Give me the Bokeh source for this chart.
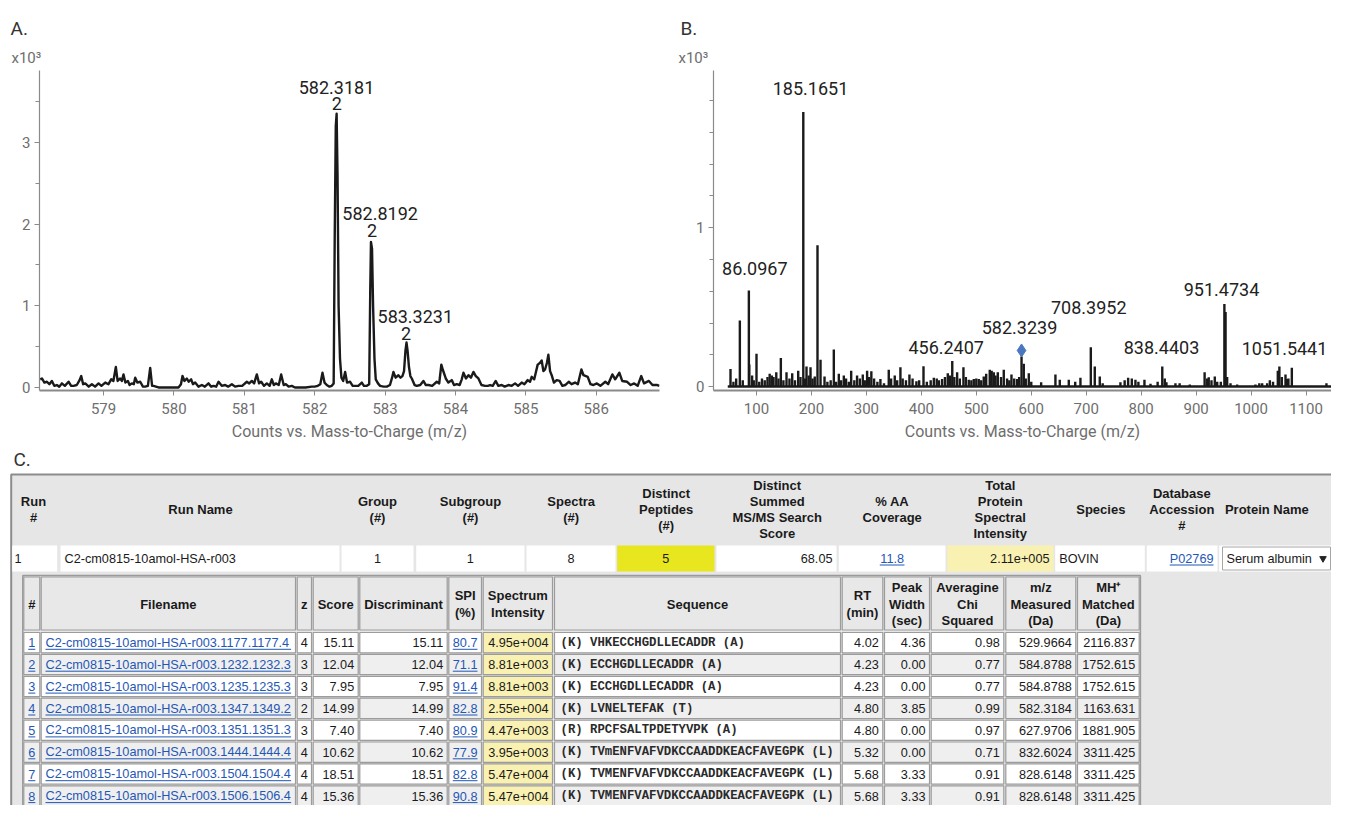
from bokeh.plotting import figure
from bokeh.models import Range1d, FixedTicker
from bokeh.layouts import column, row
from bokeh.embed import file_html
from bokeh.resources import INLINE
from bokeh.core.properties import value

PLOTFONT = "Roboto"
TABFONT = "Liberation Sans"
MONO = "Liberation Mono"

# ---------------- Panel A: zoomed MS profile (x10^3 counts) ----------------
a_mz = [578.10, 578.124, 578.16, 578.195, 578.23, 578.266, 578.30, 578.337, 578.37, 578.408,
        578.45, 578.503, 578.54, 578.574, 578.62, 578.66, 578.683, 578.71, 578.740, 578.79,
        578.834, 578.88, 578.929, 578.97, 579.024, 579.07, 579.109, 579.14, 579.175, 579.20,
        579.237, 579.26, 579.284, 579.31, 579.346, 579.37, 579.402, 579.43, 579.450, 579.48,
        579.521, 579.56, 579.592, 579.63, 579.663, 579.69, 579.710, 579.781, 579.90, 580.065,
        580.10, 580.122, 580.15, 580.184, 580.21, 580.245, 580.27, 580.302, 580.35, 580.397,
        580.44, 580.491, 580.53, 580.563, 580.60, 580.634, 580.68, 580.728, 580.77, 580.823,
        580.87, 580.918, 580.97, 581.036, 581.07, 581.107, 581.14, 581.178, 581.21, 581.240,
        581.28, 581.320, 581.36, 581.391, 581.42, 581.448, 581.49, 581.524, 581.56, 581.590,
        581.63, 581.675, 581.72, 581.770, 581.87, 581.959, 582.00, 582.044, 582.08, 582.111,
        582.14, 582.172, 582.21, 582.243, 582.27, 582.285, 582.30, 582.312, 582.325, 582.34,
        582.36, 582.38, 582.405, 582.433, 582.46, 582.504, 582.54, 582.575, 582.62, 582.670,
        582.70, 582.741, 582.775, 582.79, 582.80, 582.815, 582.83, 582.85, 582.868, 582.90,
        582.930, 582.98, 583.025, 583.07, 583.10, 583.119, 583.15, 583.190, 583.22, 583.247,
        583.27, 583.29, 583.305, 583.32, 583.34, 583.36, 583.380, 583.42, 583.451, 583.50,
        583.545, 583.58, 583.617, 583.67, 583.735, 583.77, 583.80, 583.82, 583.863, 583.90,
        583.948, 583.98, 584.019, 584.06, 584.09, 584.114, 584.15, 584.185, 584.22, 584.256,
        584.29, 584.327, 584.37, 584.422, 584.46, 584.493, 584.53, 584.573, 584.61, 584.658,
        584.70, 584.753, 584.80, 584.848, 584.89, 584.942, 584.98, 585.027, 585.06, 585.084,
        585.12, 585.169, 585.20, 585.226, 585.25, 585.274, 585.30, 585.321, 585.345, 585.368,
        585.40, 585.439, 585.48, 585.52, 585.56, 585.61, 585.65, 585.70, 585.74, 585.79,
        585.82, 585.88, 585.92, 585.96, 586.01, 586.06, 586.13, 586.17, 586.23, 586.27,
        586.33, 586.37, 586.44, 586.49, 586.54, 586.59, 586.64, 586.68, 586.75, 586.80,
        586.87, 586.90]
a_int = [0.10, 0.11, 0.06, 0.07, 0.04, 0.08, 0.02, 0.03, 0.01, 0.05,
         0.02, 0.07, 0.02, 0.02, 0.03, 0.09, 0.14, 0.04, 0.05, 0.01,
         0.04, 0.01, 0.05, 0.02, 0.06, 0.04, 0.10, 0.08, 0.25, 0.08,
         0.11, 0.08, 0.16, 0.06, 0.08, 0.03, 0.05, 0.04, 0.12, 0.06,
         0.07, 0.01, 0.01, 0.02, 0.24, 0.02, 0.02, 0.00, 0.00, 0.00,
         0.04, 0.14, 0.08, 0.11, 0.07, 0.10, 0.04, 0.06, 0.01, 0.03,
         0.01, 0.05, 0.01, 0.02, 0.01, 0.07, 0.02, 0.03, 0.01, 0.04,
         0.01, 0.02, 0.02, 0.07, 0.05, 0.08, 0.05, 0.16, 0.05, 0.07,
         0.02, 0.05, 0.02, 0.10, 0.03, 0.05, 0.03, 0.16, 0.03, 0.04,
         0.01, 0.02, 0.00, 0.00, 0.00, 0.01, 0.01, 0.02, 0.04, 0.18,
         0.06, 0.03, 0.01, 0.02, 0.05, 1.84, 3.20, 3.35, 2.60, 1.00,
         0.35, 0.12, 0.08, 0.19, 0.06, 0.07, 0.02, 0.02, 0.02, 0.06,
         0.02, 0.02, 0.04, 1.20, 1.78, 1.70, 1.00, 0.35, 0.10, 0.05,
         0.02, 0.01, 0.01, 0.03, 0.12, 0.19, 0.12, 0.15, 0.12, 0.14,
         0.20, 0.45, 0.55, 0.45, 0.25, 0.14, 0.11, 0.03, 0.02, 0.03,
         0.08, 0.03, 0.03, 0.02, 0.07, 0.05, 0.28, 0.22, 0.11, 0.06,
         0.09, 0.03, 0.04, 0.03, 0.10, 0.18, 0.11, 0.15, 0.12, 0.19,
         0.14, 0.11, 0.03, 0.02, 0.02, 0.03, 0.02, 0.08, 0.02, 0.03,
         0.01, 0.03, 0.02, 0.05, 0.02, 0.06, 0.04, 0.09, 0.07, 0.13,
         0.10, 0.28, 0.30, 0.33, 0.20, 0.22, 0.30, 0.40, 0.20, 0.15,
         0.06, 0.09, 0.08, 0.02, 0.03, 0.07, 0.04, 0.06, 0.04, 0.22,
         0.15, 0.13, 0.04, 0.03, 0.05, 0.02, 0.07, 0.04, 0.16, 0.10,
         0.18, 0.08, 0.07, 0.03, 0.05, 0.02, 0.14, 0.05, 0.08, 0.03,
         0.03, 0.02]
a_peak_labels = ["582.3181", "582.8192", "583.3231"]
a_label_mz = [582.31, 582.93, 583.43]
a_label_int = [3.676, 2.13, 0.873]
a_charges = ["2", "2", "2"]
a_charge_mz = [582.315, 582.815, 583.30]
a_charge_int = [3.48, 1.925, 0.665]
a_xticks = [579, 580, 581, 582, 583, 584, 585, 586]
a_yticks = [0, 1, 2, 3]
a_yminor = [0.5, 1.5, 2.5, 3.5]

# ---------------- Panel B: MS/MS centroid spectrum (x10^3 counts) ----------------
b_mz = [52.7, 58, 63, 69.7, 75, 86.0967, 86.9, 92, 95, 100, 105, 110, 115, 120, 124, 128, 131, 136,
        140, 144.3, 149, 154.6, 160, 165, 170, 175.9, 180, 185.1651, 188, 191, 195, 198.3, 202, 206,
        211, 216.5, 223.8, 229, 235, 240.7, 245, 249.8, 254, 258.9, 263, 268, 272.3, 278, 283,
        288, 293.4, 297, 301.3, 305, 309, 314, 320, 325.5, 332, 340.7, 345, 351.6, 356, 361.9,
        366, 372, 378.3, 384, 391, 396, 403.9, 410, 417, 422.7, 428, 432, 437.8, 443, 448.1,
        452, 456.2407, 460, 465.1, 470, 476.6, 481, 486.3, 491, 495.4, 500, 504.5, 509, 513.6,
        518, 524.5, 528, 531.8, 535, 539.1, 545, 550, 556, 560, 564, 569, 574.3, 578, 582.3239,
        586.4, 590, 595.5, 600, 618, 644, 651.9, 668.3, 680, 689.5, 708.3952, 715.6, 724.7, 730,
        762.3, 770, 776.3, 783, 789.6, 795, 806, 817, 830, 838.4403, 843, 846, 862.4, 870, 888.5,
        915.5, 920, 923, 928, 934, 938.4, 945, 951.4734, 953.6, 956.5, 962.6, 974.7, 1008, 1015,
        1020.2, 1029.3, 1034.2, 1040, 1048.7, 1051.5441, 1056, 1062.7, 1065.7, 1068, 1074.2, 1137.2]
b_int = [0.11, 0.03, 0.05, 0.416, 0.04, 0.605, 0.139, 0.07, 0.04, 0.206, 0.03, 0.05, 0.04, 0.06, 0.08, 0.07, 0.06, 0.09,
         0.05, 0.18, 0.04, 0.09, 0.05, 0.084, 0.04, 0.10, 0.06, 1.729, 0.05, 0.126, 0.07, 0.122, 0.05, 0.063,
         0.889, 0.168, 0.063, 0.03, 0.04, 0.233, 0.03, 0.08, 0.04, 0.07, 0.05, 0.03, 0.10, 0.04, 0.07,
         0.05, 0.076, 0.04, 0.10, 0.06, 0.097, 0.05, 0.03, 0.048, 0.02, 0.105, 0.05, 0.07, 0.04, 0.122,
         0.05, 0.04, 0.076, 0.05, 0.034, 0.04, 0.128, 0.03, 0.04, 0.055, 0.05, 0.04, 0.048, 0.06, 0.084,
         0.07, 0.16, 0.06, 0.09, 0.05, 0.122, 0.06, 0.042, 0.04, 0.048, 0.05, 0.048, 0.04, 0.063,
         0.08, 0.105, 0.10, 0.09, 0.07, 0.09, 0.06, 0.105, 0.05, 0.04, 0.076, 0.05, 0.048, 0.06, 0.189,
         0.143, 0.05, 0.084, 0.03, 0.027, 0.076, 0.042, 0.042, 0.03, 0.055, 0.248, 0.126, 0.063, 0.02,
         0.027, 0.04, 0.055, 0.05, 0.042, 0.03, 0.042, 0.017, 0.03, 0.126, 0.05, 0.027, 0.021, 0.02, 0.013,
         0.09, 0.05, 0.058, 0.04, 0.063, 0.03, 0.03, 0.52, 0.47, 0.06, 0.02, 0.013, 0.013, 0.02,
         0.02, 0.02, 0.04, 0.03, 0.10, 0.126, 0.06, 0.076, 0.048, 0.05, 0.118, 0.02]
b_labels = ["86.0967", "185.1651", "456.2407", "582.3239", "708.3952", "838.4403", "951.4734", "1051.5441"]
b_label_mz = [96.9, 198.3, 445.2, 578.6, 704.7, 837.0, 946.2, 1060.9]
b_label_int = [0.742, 1.876, 0.244, 0.374, 0.500, 0.244, 0.609, 0.241]
b_precursor_mz = [582.3239]
b_precursor_int = [0.227]
b_xticks = [100, 200, 300, 400, 500, 600, 700, 800, 900, 1000, 1100]
b_yticks = [0, 1]
b_yminor = [0.2, 0.4, 0.6, 0.8, 1.2, 1.4, 1.6, 1.8]

panel_letters = ["A.", "B.", "C."]
scale_note = "x10\u00b3"

# ---------------- Panel C: table ----------------
run_headers = ["Run\n#", "Run Name", "Group\n(#)", "Subgroup\n(#)", "Spectra\n(#)",
               "Distinct\nPeptides\n(#)", "Distinct\nSummed\nMS/MS Search\nScore", "% AA\nCoverage",
               "Total\nProtein\nSpectral\nIntensity", "Species", "Database\nAccession\n#", "Protein Name"]
run_values = ["1", "C2-cm0815-10amol-HSA-r003", "1", "1", "8", "5", "68.05", "11.8",
              "2.11e+005", "BOVIN", "P02769", "Serum albumin"]

pep_headers = ["#", "Filename", "z", "Score", "Discriminant", "SPI\n(%)", "Spectrum\nIntensity",
               "Sequence", "RT\n(min)", "Peak\nWidth\n(sec)", "Averagine\nChi\nSquared",
               "m/z\nMeasured\n(Da)", "MH\u207a\nMatched\n(Da)"]
pep_num = ["1", "2", "3", "4", "5", "6", "7", "8"]
pep_file = ["C2-cm0815-10amol-HSA-r003.1177.1177.4", "C2-cm0815-10amol-HSA-r003.1232.1232.3",
            "C2-cm0815-10amol-HSA-r003.1235.1235.3", "C2-cm0815-10amol-HSA-r003.1347.1349.2",
            "C2-cm0815-10amol-HSA-r003.1351.1351.3", "C2-cm0815-10amol-HSA-r003.1444.1444.4",
            "C2-cm0815-10amol-HSA-r003.1504.1504.4", "C2-cm0815-10amol-HSA-r003.1506.1506.4"]
pep_z = ["4", "3", "3", "2", "3", "4", "4", "4"]
pep_score = ["15.11", "12.04", "7.95", "14.99", "7.40", "10.62", "18.51", "15.36"]
pep_disc = ["15.11", "12.04", "7.95", "14.99", "7.40", "10.62", "18.51", "15.36"]
pep_spi = ["80.7", "71.1", "91.4", "82.8", "80.9", "77.9", "82.8", "90.8"]
pep_intensity = ["4.95e+004", "8.81e+003", "8.81e+003", "2.55e+004", "4.47e+003", "3.95e+003",
                 "5.47e+004", "5.47e+004"]
pep_seq = ["(K) VHKECCHGDLLECADDR (A)", "(K) ECCHGDLLECADDR (A)", "(K) ECCHGDLLECADDR (A)",
           "(K) LVNELTEFAK (T)", "(R) RPCFSALTPDETYVPK (A)",
           "(K) TVmENFVAFVDKCCAADDKEACFAVEGPK (L)", "(K) TVMENFVAFVDKCCAADDKEACFAVEGPK (L)",
           "(K) TVMENFVAFVDKCCAADDKEACFAVEGPK (L)"]
pep_rt = ["4.02", "4.23", "4.23", "4.80", "4.80", "5.32", "5.68", "5.68"]
pep_width = ["4.36", "0.00", "0.00", "3.85", "0.00", "0.00", "3.33", "3.33"]
pep_chi = ["0.98", "0.77", "0.77", "0.99", "0.97", "0.71", "0.91", "0.91"]
pep_mz = ["529.9664", "584.8788", "584.8788", "582.3184", "627.9706", "832.6024", "828.6148", "828.6148"]
pep_mh = ["2116.837", "1752.615", "1752.615", "1163.631", "1881.905", "3311.425", "3311.425", "3311.425"]


# ======================================================================
def bare(width, height, xr, yr):
    p = figure(width=width, height=height, x_range=Range1d(*xr), y_range=Range1d(*yr),
               toolbar_location=None, output_backend="svg", x_axis_location=None,
               y_axis_location=None, min_border=0)
    p.grid.visible = False
    p.outline_line_color = None
    return p


# header strip with panel letters
hdr = bare(1331, 70, (0, 1331), (70, 0))
hdr.text(x=[10, 680], y=[28, 28], text=panel_letters[:2], text_align="left", text_baseline="middle",
         text_font=value(PLOTFONT), text_font_size=value("19px"), text_color="#333333")
hdr.text(x=[11, 678], y=[57, 57], text=[scale_note, scale_note], text_align="left",
         text_baseline="middle", text_font=value(PLOTFONT), text_font_size=value("15px"),
         text_color="#6e6e6e")


def make_spectrum(width, b_left, b_right, xr, yr, xticks, yticks, yminor):
    p = figure(width=width, height=379, x_range=Range1d(*xr), y_range=Range1d(*yr),
               toolbar_location=None, output_backend="svg",
               min_border_left=b_left, min_border_right=b_right,
               min_border_top=0, min_border_bottom=59)
    p.grid.visible = False
    p.outline_line_color = None
    xa = p.xaxis[0]
    ya = p.yaxis[0]
    xa.ticker = FixedTicker(ticks=xticks)
    ya.ticker = FixedTicker(ticks=yticks, minor_ticks=yminor)
    for ax in (xa, ya):
        ax.axis_line_color = "#8a8a8a"
        ax.major_tick_line_color = "#8a8a8a"
        ax.minor_tick_line_color = "#8a8a8a"
        ax.major_tick_in = 0
        ax.major_tick_out = 5
        ax.minor_tick_in = 0
        ax.minor_tick_out = 4
        ax.major_label_text_font = PLOTFONT
        ax.major_label_text_font_size = "15px"
        ax.major_label_text_color = "#6e6e6e"
    xa.axis_line_width = 2
    ya.axis_line_width = 1.2
    xa.major_label_standoff = 7
    ya.major_label_standoff = 4
    xa.axis_label = "Counts vs. Mass-to-Charge (m/z)"
    xa.axis_label_text_font = PLOTFONT
    xa.axis_label_text_font_size = "16px"
    xa.axis_label_text_font_style = "normal"
    xa.axis_label_text_color = "#6e6e6e"
    xa.axis_label_standoff = 5
    return p


pA = make_spectrum(690, 39, 31, (578.09, 586.90), (-0.037, 3.88), a_xticks, a_yticks, a_yminor)
pA.line(a_mz, a_int, line_color="#1a1a1a", line_width=2.4, line_join="round")
pA.text(x=a_label_mz, y=a_label_int, text=a_peak_labels, text_align="center", text_baseline="middle",
        text_font=value(PLOTFONT), text_font_size=value("18px"), text_color="#222222")
pA.text(x=a_charge_mz, y=a_charge_int, text=a_charges, text_align="center", text_baseline="middle",
        text_font=value(PLOTFONT), text_font_size=value("18px"), text_color="#222222")

pB = make_spectrum(641, 23, 0, (21.75, 1146.4), (-0.025, 1.99), b_xticks, b_yticks, b_yminor)
pB.line([min(b_mz) - 5, 1146.4], [0, 0], line_color="#1a1a1a", line_width=2.4)
pB.segment(x0=b_mz, y0=0, x1=b_mz, y1=b_int, line_color="#1a1a1a", line_width=2.4)
pB.scatter(x=b_precursor_mz, y=b_precursor_int, marker="diamond", size=13, fill_color="#4a78c0",
           line_color="#4a78c0")
pB.text(x=b_label_mz, y=b_label_int, text=b_labels, text_align="center", text_baseline="middle",
        text_font=value(PLOTFONT), text_font_size=value("18px"), text_color="#222222")

# ---------------------------------------------------------------- table
pT = bare(1331, 356, (0, 1331), (821, 465))

FSZ = 12.7
FS = "12.7px"
LINK = "#1f57b5"
W = {'.': .278, '-': .333, 'C': .722, 'c': .5, 'm': .833, 'a': .556, 'o': .556, 'l': .222,
     'H': .722, 'S': .667, 'A': .667, 'r': .333, 'P': .667}


def tw(s):
    return sum(W.get(ch, .556) for ch in s) * FSZ


texts = {}
underl = []


def put(x, y, s, align, kind="reg"):
    texts.setdefault((kind, align), []).append((x, y, s))


def put_link(x, y, s, align):
    put(x, y, s, align, "link")
    w = tw(s)
    x0 = x if align == "left" else (x - w / 2 if align == "center" else x - w)
    underl.append((x0, x0 + w, y + 6.5))


pT.text(x=[13], y=[475], text=[panel_letters[2]], text_align="left", text_baseline="middle",
        text_font=value(PLOTFONT), text_font_size=value("19px"), text_color="#333333")

# outer table
pT.quad(left=[10.7], right=[1360], top=[490], bottom=[850], fill_color="#e6e6e6",
        line_color="#8c8c8c", line_width=2)

# run header
run_left = [11.7, 60, 341, 415.7, 526, 616.7, 716, 838.3, 946.7, 1054.7, 1146.3, 1218.7]
run_right = [56.7, 339, 413, 524, 615, 714, 836, 945, 1053, 1144.3, 1217, 1360]
run_hdr_x = [33, 200, 377, 470, 570.7, 665.7, 776.7, 891.7, 999.7, 1100.3, 1181.3, 1266.3]
for hx, h in zip(run_hdr_x, run_headers):
    lines = h.split("\n")
    n = len(lines)
    for k, ln in enumerate(lines):
        put(hx, 525 + 16 * (k - (n - 1) / 2), ln, "center", "bold")

run_fill = ["white"] * 12
run_fill[5] = "#e8e61e"
run_fill[8] = "#f9f1b1"
pT.quad(left=run_left, right=run_right, top=[561] * 12, bottom=[587] * 12, fill_color=run_fill,
        line_color=None)
ry = 574
put(14, ry, run_values[0], "left")
put(64, ry, run_values[1], "left")
for i in (2, 3, 4, 5):
    put((run_left[i] + run_right[i]) / 2, ry, run_values[i], "center")
put(run_right[6] - 4, ry, run_values[6], "right")
put_link((run_left[7] + run_right[7]) / 2, ry, run_values[7], "center")
put(run_right[8] - 4, ry, run_values[8], "right")
put(run_left[9] + 4, ry, run_values[9], "left")
put_link(run_right[10] - 4, ry, run_values[10], "right")
# select box
pT.quad(left=[1222], right=[1330], top=[562.5], bottom=[585.5], fill_color="white",
        line_color="#a6a6a6", line_width=1)
put(1226, ry, run_values[11], "left")
pT.scatter(x=[1322.5], y=[ry], marker="inverted_triangle", size=6.5, fill_color="#222222",
           line_color="#222222")

# peptide sub-table
sub_left = [23.3, 40.7, 296.7, 312.7, 359.3, 448.3, 482.7, 554, 841.7, 884, 930.7, 1005.3, 1077]
sub_right = [39.3, 295, 311, 357.7, 446.7, 481, 552, 840, 882.3, 929, 1003.3, 1075.3, 1138.7]
pT.quad(left=[22.3], right=[1139.9], top=[591], bottom=[850], fill_color=None,
        line_color="#9a9a9a", line_width=1.5)
ql, qr, qt, qb, qf = [], [], [], [], []
for c in range(13):
    ql.append(sub_left[c]); qr.append(sub_right[c]); qt.append(592.5); qb.append(645.5)
    qf.append("#e8e8e8")
    lines = pep_headers[c].split("\n")
    n = len(lines)
    for k, ln in enumerate(lines):
        put((sub_left[c] + sub_right[c]) / 2, 619.7 + 16.6 * (k - (n - 1) / 2), ln, "center", "bold")

cols = [pep_num, pep_file, pep_z, pep_score, pep_disc, pep_spi, pep_intensity, pep_seq,
        pep_rt, pep_width, pep_chi, pep_mz, pep_mh]
aligns = ["center", "left", "center", "right", "right", "center", "right", "left",
          "right", "right", "right", "right", "right"]
links = {0, 1, 5}
for i in range(8):
    top = 648 + 21.9 * i
    ty = top + 10.3
    for c in range(13):
        ql.append(sub_left[c]); qr.append(sub_right[c]); qt.append(top); qb.append(top + 20.3)
        if c == 6:
            qf.append("#f9f1b1")
        else:
            qf.append("white" if i % 2 == 0 else "#efefef")
        a = aligns[c]
        if a == "center":
            x = (sub_left[c] + sub_right[c]) / 2
        elif a == "left":
            x = sub_left[c] + (6 if c == 7 else 4.3)
        else:
            x = sub_right[c] - 4
        s = cols[c][i]
        if c in links:
            put_link(x, ty, s, a)
        elif c == 7:
            put(x, ty, s, a, "mono")
        else:
            put(x, ty, s, a)
pT.quad(left=ql, right=qr, top=qt, bottom=qb, fill_color=qf, line_color="#9c9c9c", line_width=1.2)

styles = {
    "reg": dict(font=TABFONT, size=FS, style="normal", color="#1a1a1a"),
    "bold": dict(font=TABFONT, size="13px", style="bold", color="#1a1a1a"),
    "link": dict(font=TABFONT, size=FS, style="normal", color=LINK),
    "mono": dict(font=MONO, size="12.3px", style="bold", color="#2a2a2a"),
}
for (kind, align), items in texts.items():
    st = styles[kind]
    pT.text(x=[t[0] for t in items], y=[t[1] for t in items], text=[t[2] for t in items],
            text_align=align, text_baseline="middle", text_font=value(st["font"]),
            text_font_size=value(st["size"]), text_font_style=st["style"], text_color=st["color"])
pT.segment(x0=[u[0] for u in underl], y0=[u[2] for u in underl], x1=[u[1] for u in underl],
           y1=[u[2] for u in underl], line_color=LINK, line_width=1)

layout = column(hdr, row(pA, pB), pT)
open("out.html", "w").write(file_html(layout, INLINE))
